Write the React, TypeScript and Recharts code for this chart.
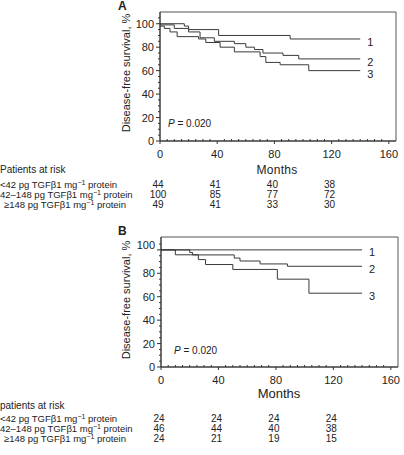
import React from 'react';
import { LineChart, Line, XAxis, YAxis, ReferenceArea } from 'recharts';

const FONT = '"Liberation Sans", Arial, Helvetica, sans-serif';
const INK = '#222';
const LINE = '#3a3a3a';

// ---- shared axis values ----
const X_MAJOR = [0, 40, 80, 120, 160];
const RISK_TIMES = [0, 40, 80, 120];
const Y_MAJOR = [0, 20, 40, 60, 80, 100];
const CURVE_NAMES = ['1', '2', '3'];
const GROUP_LABELS = ['<42', '42\u2013148', '\u2265148'];

// ---- Panel A (months, survival %) ----
const A1_T = [0, 17, 20, 41, 91, 140];
const A1_S = [100, 98, 95, 90, 87, 87];
const A2_T = [0, 10, 20, 28, 38, 52, 60, 66, 72, 86, 97, 140];
const A2_S = [99, 96, 93, 88, 85, 83, 80, 78, 75, 73, 70, 70];
const A3_T = [0, 3, 7, 12, 27, 32, 42, 52, 70, 74, 84, 104, 140];
const A3_S = [98, 96, 93, 89, 87, 84, 80, 76, 72, 67, 65, 60, 60];
const A_RISK_1 = [44, 41, 40, 38];
const A_RISK_2 = [100, 85, 77, 72];
const A_RISK_3 = [49, 41, 33, 30];

// ---- Panel B ----
const B1_T = [0, 140];
const B1_S = [100, 100];
const B2_T = [0, 20, 22, 51, 55, 69, 88, 140];
const B2_S = [100, 97.8, 95.7, 93, 90.5, 88, 86, 86];
const B3_T = [0, 10, 26, 31, 50, 81, 103, 140];
const B3_S = [100, 95.8, 91.7, 87.5, 83.3, 75, 63, 63];
const B_RISK_1 = [24, 24, 24, 24];
const B_RISK_2 = [46, 44, 40, 38];
const B_RISK_3 = [24, 21, 19, 15];

const zip = (t: number[], s: number[]) => t.map((tv, i) => ({ t: tv, s: s[i] }));

const X_DOMAIN_MAX = 165;
const xMinor: number[] = [];
for (let v = 0; v <= 160; v += 5) xMinor.push(v);

function makeXTick(risk: number[][], rowY: number[]) {
  return (props: any) => {
    const { x, y, payload } = props;
    const v = payload.value as number;
    const major = X_MAJOR.indexOf(v) >= 0;
    if (!major) {
      return <line x1={x} x2={x} y1={y} y2={y - 2} stroke="#333" strokeWidth={1} />;
    }
    const col = RISK_TIMES.indexOf(v);
    return (
      <g>
        <line x1={x} x2={x} y1={y} y2={y + 3} stroke="#333" strokeWidth={1} />
        <text x={x} y={y + 17} textAnchor="middle" fontSize={11} fontFamily={FONT} fill={INK}>
          {v}
        </text>
        {col >= 0 &&
          risk.map((row, r) => (
            <text
              key={r}
              x={x - 2}
              y={y + rowY[r]}
              textAnchor="middle"
              fontSize={10}
              fontFamily={FONT}
              fill={INK}
            >
              {row[col]}
            </text>
          ))}
      </g>
    );
  };
}

function makeYTick(dy100: number) {
  return (props: any) => {
    const { x, y, payload } = props;
    const v = payload.value as number;
    const major = Y_MAJOR.indexOf(v) >= 0;
    if (!major) {
      return <line x1={x - 2} x2={x} y1={y} y2={y} stroke="#333" strokeWidth={1} />;
    }
    return (
      <g>
        <line x1={x - 4} x2={x} y1={y} y2={y} stroke="#333" strokeWidth={1} />
        <text
          x={x - 6}
          y={y + 4 + (v === 100 ? dy100 : 0)}
          textAnchor="end"
          fontSize={11}
          fontFamily={FONT}
          fill={INK}
        >
          {v}
        </text>
      </g>
    );
  };
}

function endLabel(name: string, last: number, dx: number, dy: number) {
  return (p: any) => {
    if (p.index !== last) return <g />;
    return (
      <text x={p.x + dx} y={p.y + dy} fontSize={11} fontFamily={FONT} fill={INK}>
        {name}
      </text>
    );
  };
}

type PanelProps = {
  top: number;
  height: number;
  margin: { top: number; right: number; bottom: number; left: number };
  yMax: number;
  series: { t: number[]; s: number[] }[];
  risk: number[][];
  rowY: number[];
  dy100: number;
  labelDy: number[];
};

function Panel(p: PanelProps) {
  const yTicks: number[] = [];
  for (let v = 0; v <= Math.min(105, p.yMax); v += 5) yTicks.push(v);
  return (
    <div style={{ position: 'absolute', left: 0, top: p.top }}>
      <LineChart width={404} height={p.height} margin={p.margin}>
        <XAxis
          dataKey="t"
          type="number"
          domain={[0, X_DOMAIN_MAX]}
          ticks={xMinor}
          interval={0}
          tickSize={0}
          tickMargin={0}
          tickLine={false}
          height={20}
          axisLine={{ stroke: '#333' }}
          tick={makeXTick(p.risk, p.rowY)}
          allowDataOverflow
        />
        <YAxis
          type="number"
          domain={[0, p.yMax]}
          ticks={yTicks}
          interval={0}
          tickSize={0}
          tickMargin={0}
          tickLine={false}
          width={40}
          axisLine={{ stroke: '#333' }}
          tick={makeYTick(p.dy100)}
          allowDataOverflow
        />
        <ReferenceArea x1={0} x2={X_DOMAIN_MAX} y1={0} y2={p.yMax} fill="none" stroke="#555" strokeWidth={1} />
        {p.series.map((s, i) => {
          const data = zip(s.t, s.s);
          return (
            <Line
              key={i}
              data={data}
              dataKey="s"
              type="stepAfter"
              stroke={LINE}
              strokeWidth={1}
              dot={false}
              activeDot={false}
              isAnimationActive={false}
              label={endLabel(CURVE_NAMES[i], data.length - 1, 7, p.labelDy[i])}
            />
          );
        })}
      </LineChart>
    </div>
  );
}

function RowLabel({ x, y, group }: { x: number; y: number; group: string }) {
  return (
    <text x={x} y={y} fontSize={9.5} fontFamily={FONT} fill={INK}>
      {group} pg TGF{'\u03B2'}1 mg
      <tspan dy={-3} fontSize={7}>
        {'\u22121'}
      </tspan>
      <tspan dy={3}> protein</tspan>
    </text>
  );
}

function Overlay() {
  return (
    <svg
      width={404}
      height={455}
      style={{ position: 'absolute', left: 0, top: 0, pointerEvents: 'none' }}
    >
      {/* Panel A */}
      <text x={118} y={10} fontSize={12} fontWeight="bold" fontFamily={FONT} fill={INK}>A</text>
      <text
        transform="translate(129.5,73) rotate(-90)"
        textAnchor="middle"
        fontSize={11}
        fontFamily={FONT}
        fill={INK}
      >
        Disease-free survival, %
      </text>
      <text x={168} y={126.5} fontSize={10} fontFamily={FONT} fill={INK}>
        <tspan fontStyle="italic">P</tspan> = 0.020
      </text>
      <text x={277} y={173.5} textAnchor="middle" fontSize={12} fontFamily={FONT} fill={INK} letterSpacing={0.3}>
        Months
      </text>
      <text x={0} y={173} fontSize={10} fontFamily={FONT} fill={INK}>Patients at risk</text>
      <RowLabel x={0} y={188} group={GROUP_LABELS[0]} />
      <RowLabel x={0} y={198} group={GROUP_LABELS[1]} />
      <RowLabel x={4} y={208} group={GROUP_LABELS[2]} />

      {/* Panel B */}
      <text x={118} y={235} fontSize={12} fontWeight="bold" fontFamily={FONT} fill={INK}>B</text>
      <text
        transform="translate(129.5,300) rotate(-90)"
        textAnchor="middle"
        fontSize={11}
        fontFamily={FONT}
        fill={INK}
      >
        Disease-free survival, %
      </text>
      <text x={174} y={353.5} fontSize={10} fontFamily={FONT} fill={INK}>
        <tspan fontStyle="italic">P</tspan> = 0.020
      </text>
      <text x={279} y={397.5} textAnchor="middle" fontSize={13} fontFamily={FONT} fill={INK}>
        Months
      </text>
      <text x={0} y={408.5} fontSize={10} fontFamily={FONT} fill={INK}>patients at risk</text>
      <RowLabel x={0} y={422} group={GROUP_LABELS[0]} />
      <RowLabel x={0} y={432} group={GROUP_LABELS[1]} />
      <RowLabel x={4} y={442} group={GROUP_LABELS[2]} />
    </svg>
  );
}

export default function App() {
  return (
    <div style={{ position: 'absolute', left: 0, top: 0, width: 404, height: 455, background: '#fff' }}>
      <Panel
        top={0}
        height={225}
        margin={{ top: 12, right: 8, bottom: 64, left: 120 }}
        yMax={110}
        series={[
          { t: A1_T, s: A1_S },
          { t: A2_T, s: A2_S },
          { t: A3_T, s: A3_S },
        ]}
        risk={[A_RISK_1, A_RISK_2, A_RISK_3]}
        rowY={[47, 57, 67]}
        dy100={0}
        labelDy={[7, 7, 7]}
      />
      <Panel
        top={225}
        height={230}
        margin={{ top: 12, right: 6, bottom: 68, left: 121 }}
        yMax={111}
        series={[
          { t: B1_T, s: B1_S },
          { t: B2_T, s: B2_S },
          { t: B3_T, s: B3_S },
        ]}
        risk={[B_RISK_1, B_RISK_2, B_RISK_3]}
        rowY={[55, 65, 75]}
        dy100={-5}
        labelDy={[6, 7, 7]}
      />
      <Overlay />
    </div>
  );
}
